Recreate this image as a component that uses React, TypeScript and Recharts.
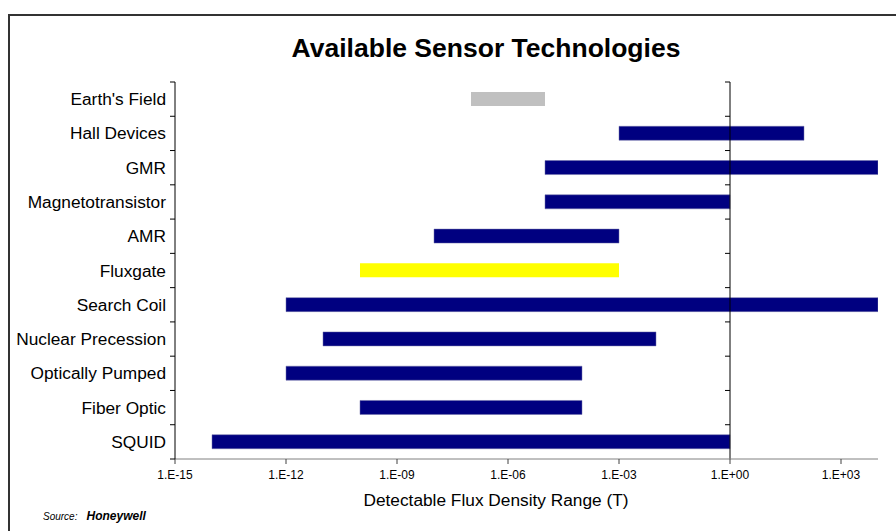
import { Bar, BarChart, Cell, ReferenceLine, XAxis, YAxis } from "recharts";

const sensors = [
  "Earth's Field",
  "Hall Devices",
  "GMR",
  "Magnetotransistor",
  "AMR",
  "Fluxgate",
  "Search Coil",
  "Nuclear Precession",
  "Optically Pumped",
  "Fiber Optic",
  "SQUID",
];
// detectable range as powers of ten (tesla)
const lowExp = [-7, -3, -5, -5, -8, -10, -12, -11, -12, -10, -14];
const highExp = [-5, 2, 4, 0, -3, -3, 4, -2, -4, -4, 0];
const xTicks = [-15, -12, -9, -6, -3, 0, 3];
const xDomain = [-15, 4];

const barColors: Record<string, string> = {
  "Earth's Field": "#c0c0c0",
  Fluxgate: "#ffff00",
};

const data = sensors.map((name, i) => ({
  name,
  range: [lowExp[i], highExp[i]],
}));

const W = 896;
const H = 531;
const PLOT_LEFT = 175;
const MARGIN = { top: 82, right: 18, bottom: 42, left: 0 };
const X_AXIS_H = 30;
const PLOT_W = W - PLOT_LEFT - MARGIN.right;
const PLOT_H = H - MARGIN.top - MARGIN.bottom - X_AXIS_H;
const BAND = PLOT_H / sensors.length;
const MID_X =
  PLOT_LEFT + ((0 - xDomain[0]) / (xDomain[1] - xDomain[0])) * PLOT_W;

const font = "Arial, 'Liberation Sans', sans-serif";

const fmtExp = (v: number) =>
  `1.E${v < 0 ? "-" : "+"}${String(Math.abs(v)).padStart(2, "0")}`;

function SensorTick(props: any) {
  const { y, payload, index } = props;
  const top = y - BAND / 2;
  const bottom = y + BAND / 2;
  const last = index === sensors.length - 1;
  return (
    <g>
      <text
        x={PLOT_LEFT - 9}
        y={y}
        textAnchor="end"
        dominantBaseline="central"
        fontSize={17.3}
        fontFamily={font}
        fill="#000"
      >
        {payload.value}
      </text>
      <line x1={PLOT_LEFT - 5} x2={PLOT_LEFT} y1={top} y2={top} stroke="#000" />
      {last && (
        <line
          x1={PLOT_LEFT - 5}
          x2={PLOT_LEFT}
          y1={bottom}
          y2={bottom}
          stroke="#000"
        />
      )}
      <line x1={MID_X - 5} x2={MID_X} y1={top} y2={top} stroke="#000" />
    </g>
  );
}

export default function App() {
  return (
    <div
      style={{
        position: "absolute",
        left: 0,
        top: 0,
        width: W,
        height: H,
        overflow: "hidden",
        background: "#fff",
        fontFamily: font,
      }}
    >
      <div
        style={{
          position: "absolute",
          left: 8,
          top: 14,
          width: W,
          height: H,
          borderTop: "2px solid #333",
          borderLeft: "2px solid #333",
        }}
      />
      <div
        style={{
          position: "absolute",
          left: 186,
          width: 600,
          top: 33,
          lineHeight: "30px",
          textAlign: "center",
          fontSize: 26.5,
          fontWeight: "bold",
        }}
      >
        Available Sensor Technologies
      </div>
      <div style={{ position: "absolute", left: 0, top: 0 }}>
        <BarChart
          width={W}
          height={H}
          data={data}
          layout="vertical"
          margin={MARGIN}
          barSize={14}
        >
          <XAxis
            type="number"
            domain={xDomain}
            ticks={xTicks}
            allowDataOverflow
            tickFormatter={fmtExp}
            height={X_AXIS_H}
            axisLine={{ stroke: "#808080" }}
            tickLine={{ stroke: "#404040" }}
            tickSize={5}
            tickMargin={6}
            tick={{ fontSize: 12, fill: "#000", fontFamily: font }}
          />
          <YAxis
            type="category"
            dataKey="name"
            width={PLOT_LEFT}
            axisLine={{ stroke: "#000" }}
            tickLine={false}
            interval={0}
            tick={<SensorTick />}
          />
          <ReferenceLine x={0} stroke="#000" />
          <Bar dataKey="range" isAnimationActive={false} strokeWidth={0.5}>
            {data.map((d) => (
              <Cell
                key={d.name}
                fill={barColors[d.name] ?? "#000080"}
                stroke={barColors[d.name] ? "none" : "#7070a8"}
              />
            ))}
          </Bar>
        </BarChart>
      </div>
      <div
        style={{
          position: "absolute",
          left: 296,
          width: 400,
          top: 490,
          lineHeight: "20px",
          textAlign: "center",
          fontSize: 17.3,
        }}
      >
        Detectable Flux Density Range (T)
      </div>
      <div
        style={{
          position: "absolute",
          left: 43,
          top: 508,
          lineHeight: "14px",
          fontStyle: "italic",
          whiteSpace: "nowrap",
        }}
      >
        <span style={{ fontSize: 10 }}>Source:</span>
        <span style={{ fontSize: 12, fontWeight: "bold", marginLeft: 9 }}>
          Honeywell
        </span>
      </div>
    </div>
  );
}
